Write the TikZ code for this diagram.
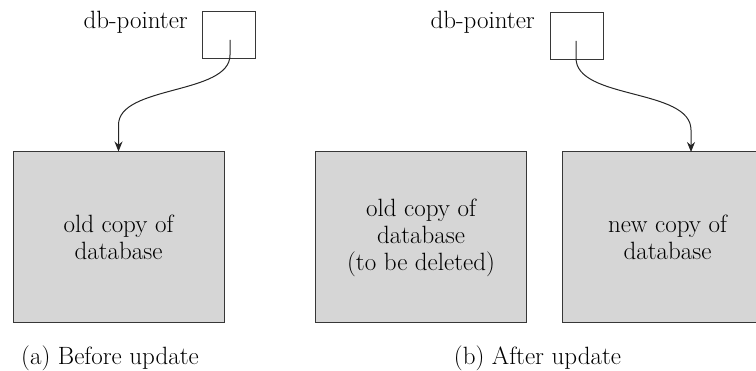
\documentclass[tikz,border=0pt]{standalone}
\usetikzlibrary{arrows.meta}
\definecolor{dbfill}{RGB}{214,214,214}
\definecolor{edge}{RGB}{55,55,55}
\tikzset{
  dbbox/.style={draw=edge, line width=1pt, fill=dbfill, minimum width=211pt, minimum height=171pt, inner sep=0pt, align=center, font=\fontsize{25}{27}\selectfont},
  ptrbox/.style={draw=edge, line width=1pt, minimum width=53pt, minimum height=47pt, inner sep=0pt},
  lbl/.style={inner sep=0pt, font=\fontsize{25}{27}\selectfont},
  ptrarrow/.style={draw=black!85, line width=1pt, -{Stealth[length=10pt,width=8pt]}}
}
\begin{document}
\begin{tikzpicture}[x=1pt,y=-1pt]
\useasboundingbox (0,0) rectangle (756,371);
\clip (0,0) rectangle (756,371);
% (a)
\node[ptrbox] (ptrA) at (228.5,35.5) {};
\node[lbl, anchor=east] (ptrAlbl) at (188,22) {db-pointer};
\node[dbbox] (oldA) at (118.5,237.5) {old copy of\\database};
\coordinate (sA) at (230,40);
\coordinate (eA) at (oldA.north);
\draw[ptrarrow] (sA) -- (230,55) .. controls (230,95) and (118.5,85) .. (118.5,125) -- (eA);
\node[lbl] (capA) at (110,358) {(a) Before update};
% (b)
\node[ptrbox] (ptrB) at (576.5,36.5) {};
\node[lbl, anchor=east] (ptrBlbl) at (535,22) {db-pointer};
\node[dbbox] (oldB) at (421,237.5) {old copy of\\database\\(to be deleted)};
\node[dbbox] (newB) at (667.5,237.5) {new copy of\\database};
\coordinate (sB) at (576,41);
\coordinate (eB) at (691,152);
\draw[ptrarrow] (sB) -- (576,58) .. controls (576,100) and (691,88) .. (691,130) -- (eB);
\node[lbl] (capB) at (537.5,358) {(b) After update};
\end{tikzpicture}
\end{document}
